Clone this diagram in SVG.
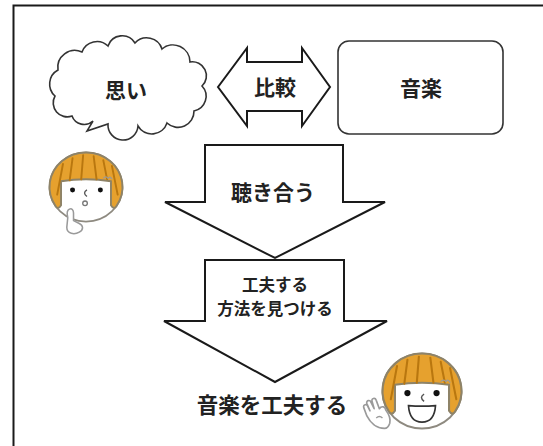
<svg xmlns="http://www.w3.org/2000/svg" width="543" height="446" viewBox="0 0 543 446">
  <style>
    .shape { fill: #fff; stroke: #1a1a1a; stroke-width: 2; stroke-linejoin: miter; }
    .soft { fill: #fff; stroke: #333; stroke-width: 1.6; }
    .lbl { font-family: "Noto Sans CJK JP", "Noto Sans", sans-serif; font-weight: 700; fill: #222; text-anchor: middle; dominant-baseline: central; }
    .hair { fill: #E6A12E; stroke: #8E8368; stroke-width: 2; }
    .strand { fill: none; stroke: #B9770F; stroke-width: 2; stroke-linecap: round; }
    .skin { fill: #fff; stroke: #8E8A80; stroke-width: 1.8; }
    .hand { fill: #fff; stroke: #9A9A9A; stroke-width: 1.6; stroke-linejoin: round; }
  </style>
  <defs>
    <!-- bob-haired head, centred on 0,0 -->
    <g id="head">
      <ellipse class="skin" cx="0" cy="0" rx="38" ry="36"/>
      <path class="hair" d="M -31.6,20 A 38 36 0 1 1 31.6,20 Q 29,24 26,19 L 26,-6 Q 0,-10 -26,-6 L -26,19 Q -29,24 -31.6,20 Z"/>
      <path class="strand" d="M -3,-33 L -5,-8 M 8,-32 L 11,-8 M -14,-30 L -17,-7 M 18,-28 L 22,-8 M -24,-24 L -30,8 M 27,-22 L 33,8"/>
      <path d="M 18,-9 q 3,-3 5,0 q 2,-3 4,1" fill="none" stroke="#9a9a9a" stroke-width="1.3"/>
    </g>
  </defs>

  <!-- page frame -->
  <path d="M 13.5,446 L 13.5,5.5 L 543,5.5" fill="none" stroke="#1a1a1a" stroke-width="2"/>

  <g id="connectors">
    <g id="compare">
      <polygon class="shape" points="218,87 247,48 247,62 302,62 302,48 330,87 302,126 302,111 247,111 247,126"/>
      <text class="lbl" x="275" y="86" font-size="21">比較</text>
    </g>
    <g id="listen">
      <polygon class="shape" points="205,145 343,145 343,202 385,202 275,258 165,202 205,202"/>
      <text class="lbl" x="273" y="191" font-size="21">聴き合う</text>
    </g>
    <g id="find">
      <polygon class="shape" points="205,260 344,260 344,321 387,321 275,382 164,321 205,321"/>
      <text class="lbl" x="275" y="284" font-size="16.5">工夫する</text>
      <text class="lbl" x="275" y="308" font-size="16.5">方法を見つける</text>
    </g>
  </g>

  <g id="thought">
    <path class="soft" d="M 55,96 A 16 16 0 0 1 58,70 A 17 17 0 0 1 82,52 A 16 16 0 0 1 108,46 A 15 15 0 0 1 135,43 A 16 16 0 0 1 162,49 A 17 17 0 0 1 190,62 A 14 14 0 0 1 202,86 A 15 15 0 0 1 194,111 A 16 16 0 0 1 167,123 A 16 16 0 0 1 138,126 A 15 15 0 0 1 108,124 L 87,131 L 93,121 A 13 13 0 0 1 72,116 A 14 14 0 0 1 55,96 Z"/>
    <text class="lbl" x="126" y="89" font-size="21">思い</text>
  </g>

  <g id="music">
    <rect class="soft" x="338" y="41" width="165" height="93" rx="11"/>
    <text class="lbl" x="421" y="87" font-size="21">音楽</text>
  </g>

  <g id="result">
    <text class="lbl" x="272" y="403" font-size="21.5">音楽を工夫する</text>
  </g>

  <!-- thinking girl -->
  <g id="girl-thinking" transform="translate(86,187) scale(0.96)">
    <use href="#head"/>
    <circle cx="-14" cy="3" r="2.6" fill="#111"/>
    <circle cx="15" cy="3" r="2.6" fill="#111"/>
    <path d="M 1,3 Q -4,6 1,10" fill="none" stroke="#555" stroke-width="1.4"/>
    <circle cx="-1" cy="17" r="2.4" fill="#fff" stroke="#777" stroke-width="1.4"/>
    <path class="hand" d="M -17,23 C -20,24 -20,28 -19,32 L -20,42 C -20,49 -12,50 -7,47 C -2,44 -3,40 -7,38 L -13,35 L -13,27 C -13,24 -15,22 -17,23 Z"/>
  </g>

  <!-- smiling girl -->
  <g id="girl-smiling" transform="translate(422,391) scale(1.04)">
    <use href="#head"/>
    <circle cx="-14" cy="2" r="3" fill="#111"/>
    <circle cx="14" cy="2" r="3" fill="#111"/>
    <path d="M 2,3 Q -3,6 2,10" fill="none" stroke="#555" stroke-width="1.4"/>
    <path d="M -13,14 Q 0,15 13,14 Q 12,30 0,30 Q -12,30 -13,14 Z" fill="#fff" stroke="#333" stroke-width="1.6"/>
    <path class="hand" d="M -36,36 C -44,36 -50,30 -53,24 L -56,16 C -57,13 -53,12 -52,15 L -50,19 L -53,12 C -54,9 -50,8 -49,11 L -46,17 L -48,10 C -49,7 -45,6 -44,9 L -41,17 C -39,14 -35,15 -35,18 C -32,22 -30,27 -31,31 C -32,34 -34,36 -36,36 Z"/>
    <path d="M -44,26 q 3,-3 6,0" fill="none" stroke="#9a9a9a" stroke-width="1.3"/>
  </g>
</svg>
